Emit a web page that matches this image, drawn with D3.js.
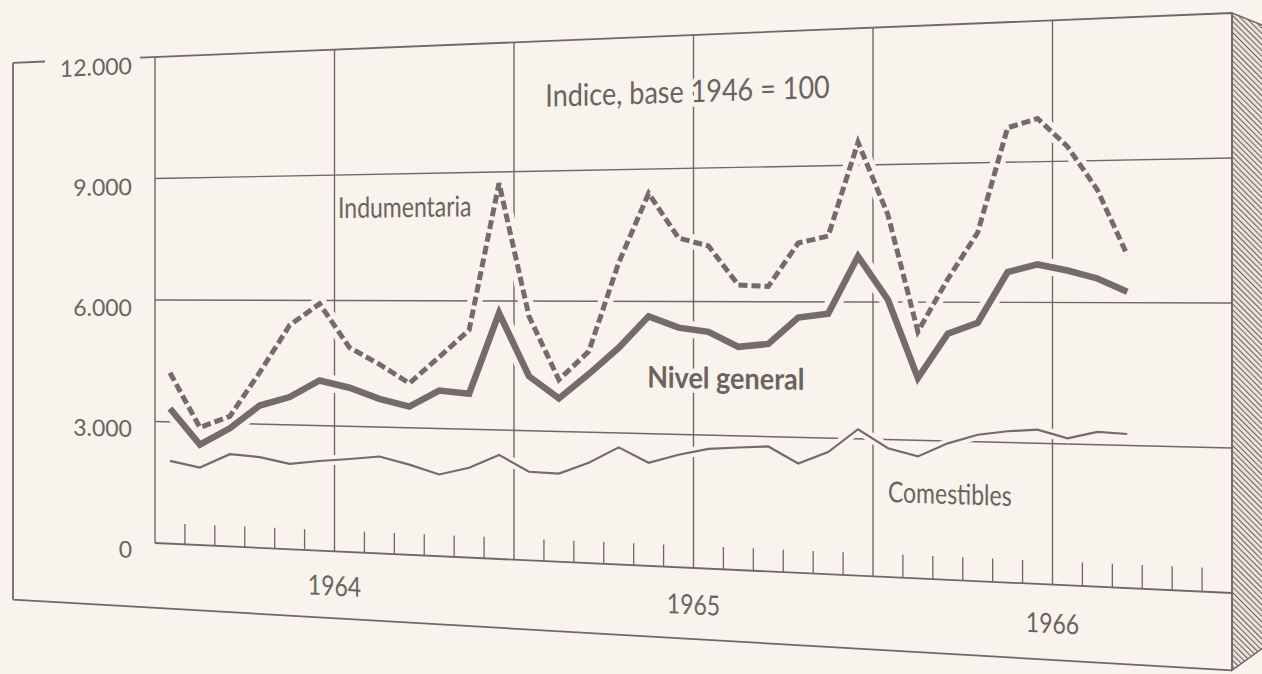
<!DOCTYPE html>
<html>
<head>
<meta charset="utf-8">
<script src="https://d3js.org/d3.v7.min.js"></script>
<style>
  body { margin: 0; background: #f8f3ec; }
  svg { display: block; }
  text { font-family: Lato, "Open Sans", sans-serif; fill: #6a6360; }
</style>
</head>
<body>
<svg id="chart" width="1262" height="674"></svg>
<script>
const meses = ["Ene 64", "Feb 64", "Mar 64", "Abr 64", "May 64", "Jun 64", "Jul 64", "Ago 64", "Sep 64", "Oct 64", "Nov 64", "Dic 64",
               "Ene 65", "Feb 65", "Mar 65", "Abr 65", "May 65", "Jun 65", "Jul 65", "Ago 65", "Sep 65", "Oct 65", "Nov 65", "Dic 65",
               "Ene 66", "Feb 66", "Mar 66", "Abr 66", "May 66", "Jun 66", "Jul 66", "Ago 66", "Sep 66"];
const indumentaria = [4210, 2880, 3170, 4250, 5400, 5920, 4880, 4490, 4050, 4680, 5320, 8740,
                      5650, 4190, 4850, 6880, 8450, 7430, 7250, 6370, 6340, 7300, 7450, 9500,
                      7900, 5360, 6500, 7500, 9740, 9920, 9310, 8380, 7000];
const nivelGeneral = [3330, 2460, 2880, 3450, 3670, 4080, 3920, 3670, 3500, 3890, 3830, 5720,
                      4260, 3760, 4330, 4940, 5660, 5410, 5320, 4990, 5060, 5650, 5740, 7000,
                      6050, 4350, 5320, 5560, 6650, 6810, 6680, 6510, 6230];
const comestibles = [2040, 1900, 2250, 2200, 2060, 2150, 2220, 2300, 2130, 1920, 2100, 2420,
                     2050, 2030, 2300, 2670, 2340, 2540, 2690, 2740, 2780, 2420, 2690, 3210,
                     2810, 2650, 2950, 3150, 3240, 3290, 3120, 3270, 3240];
const valoresY = [0, 3000, 6000, 9000, 12000];
const etiquetasY = ["0", "3.000", "6.000", "9.000", "12.000"];
const anios = ["1964", "1965", "1966"];

const svg = d3.select("#chart");
const paper = "#f8f3ec";
const ink = "#6f6865";

// the printed page was photographed at an angle, so the plot frame is a trapezoid:
// months run linearly along x, the top and bottom edges are slanted lines
const x = d3.scaleLinear().domain([0, 36]).range([155, 1232]);
const topEdge = d3.scaleLinear().domain([155, 1232]).range([57, 13]);
const bottomEdge = d3.scaleLinear().domain([155, 1232]).range([543, 593]);
const y = X => d3.scaleLinear().domain([0, 12000]).range([bottomEdge(X), topEdge(X)]);
const P = (m, v) => { const X = x(m); return [X, y(X)(v)]; };

const seg = (m1, v1, m2, v2) => d3.line()([P(m1, v1), P(m2, v2)]);

// hatch for the side of the board
const defs = svg.append("defs");
defs.append("pattern")
    .attr("id", "hatch").attr("width", 4).attr("height", 4)
    .attr("patternUnits", "userSpaceOnUse")
    .attr("patternTransform", "rotate(-45)")
    .call(p => p.append("rect").attr("width", 4).attr("height", 4).attr("fill", "#ebe5de"))
    .call(p => p.append("line").attr("x1", 0).attr("y1", 0).attr("x2", 0).attr("y2", 4)
        .attr("stroke", "#6c6561").attr("stroke-width", 2.2));

const [sx, sy1] = P(36, 12000);
const sy2 = P(36, -1600)[1];
svg.append("path")
    .attr("d", d3.line()([[sx, sy1], [sx + 40, sy1 + 16], [sx + 40, sy2 - 29], [sx, sy2]]) + "Z")
    .attr("fill", "url(#hatch)").attr("stroke", ink).attr("stroke-width", 1.5);

const frame = svg.append("g").attr("stroke", ink).attr("fill", "none");

// outer board
const uLeft = x.invert(13);
frame.append("path").attr("stroke-width", 1.8)
    .attr("d", seg(uLeft, 12000, x.invert(45), 12000) + seg(uLeft, 12000, uLeft, -1600) +
               seg(uLeft, -1600, 36, -1600) + seg(36, 12000, 36, -1600) + seg(-0.5, 12000, 36, 12000));

// grid
const grid = svg.append("g").attr("stroke", ink).attr("fill", "none").attr("stroke-width", 1.4);
[3000, 6000, 9000].forEach(v => grid.append("path").attr("d", seg(0, v, 36, v)));
[0, 6, 12, 18, 24, 30].forEach(m => grid.append("path").attr("d", seg(m, 0, m, 12000)));
grid.append("path").attr("stroke-width", 1.8).attr("d", seg(0, 0, 36, 0));

// monthly ticks
d3.range(1, 36).filter(m => m % 6 !== 0).forEach(m =>
    grid.append("path").attr("stroke-width", 1.3).attr("d", seg(m, 0, m, 500)));

// series
const line = d3.line().x(d => d[0]).y(d => d[1]);
const pts = arr => arr.map((v, i) => P(i + 0.5, v));
const series = [
    { data: comestibles, width: 2.2, halo: 10, dash: null },
    { data: indumentaria, width: 5, halo: 15, dash: "9 4" },
    { data: nivelGeneral, width: 6.5, halo: 17, dash: null }
];
const lines = svg.append("g").attr("fill", "none");
series.forEach(s => lines.append("path").attr("d", line(pts(s.data)))
    .attr("stroke", paper).attr("stroke-width", s.halo).attr("stroke-linejoin", "round"));
series.forEach(s => lines.append("path").attr("d", line(pts(s.data)))
    .attr("stroke", "#736c69").attr("stroke-width", s.width)
    .attr("stroke-dasharray", s.dash).attr("stroke-linejoin", "miter"));

// text placed in chart units, following the local slant of the page
function label(m, v, txt, size, anchor, k, weight, dy) {
    const [X, Y] = P(m, v);
    const [X2, Y2] = P(m + 1, v);
    const slope = (Y2 - Y) / (X2 - X);
    svg.append("text")
        .attr("transform", `matrix(1,${slope},0,${k},${X},${Y + (dy || 0)})`)
        .attr("text-anchor", anchor).attr("dominant-baseline", "central")
        .attr("font-size", size).attr("font-weight", weight || 400)
        .attr("stroke", paper).attr("stroke-width", 8).attr("paint-order", "stroke")
        .text(txt);
}

valoresY.forEach((v, i) => label(-0.77, v, etiquetasY[i], 23, "end", 1, 400, 7));
anios.forEach((a, i) => label(6 + 12 * i, -800, a, 23, "middle", 1.2));

label(17.8, 10765, "Indice, base 1946 = 100", 27, "middle", 1.15);
label(6.12, 8235, "Indumentaria", 23, "start", 1.25);
label(16.45, 4306, "Nivel  general", 27, "start", 1.1, 700);
label(24.5, 1877, "Comestibles", 23, "start", 1.25);
</script>
</body>
</html>
